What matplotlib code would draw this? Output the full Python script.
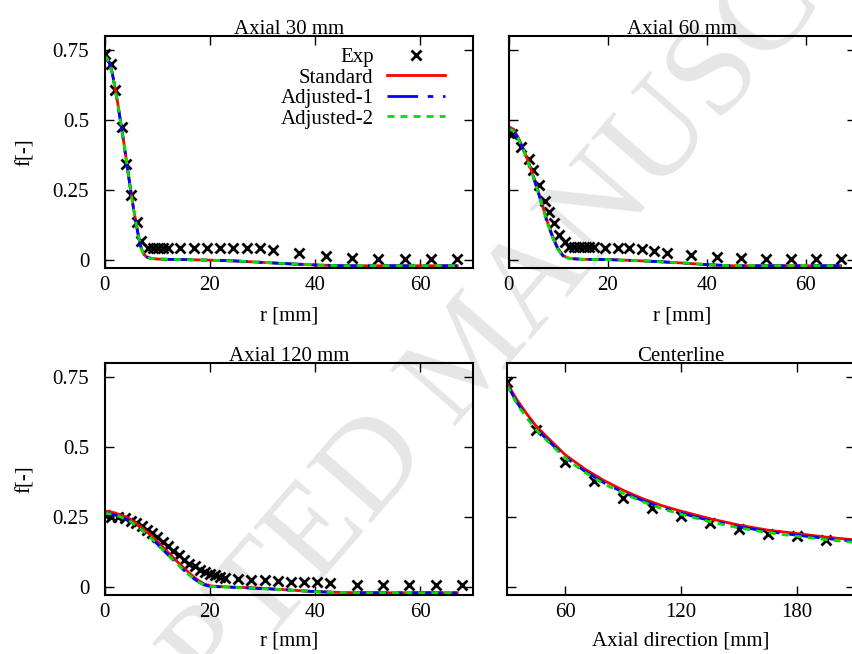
"""Mixture fraction profiles: radial cuts and centerline, Exp vs three models."""

import matplotlib

matplotlib.use("Agg")
import matplotlib.pyplot as plt

# ---------------------------------------------------------------- data
# Axial 30 mm
exp30_r = [0, 1.25, 2, 3.3, 4.1, 5, 6.1, 7, 8.2, 9.2, 10.1, 11.1, 12, 14.4, 17,
           19.4, 21.9, 24.5, 27, 29.5, 32, 37, 42, 47, 52, 57, 62, 67]
exp30_f = [0.735, 0.70, 0.607, 0.475, 0.343, 0.232, 0.133, 0.068, 0.043, 0.043,
           0.043, 0.043, 0.043, 0.043, 0.043, 0.043, 0.043, 0.042, 0.042, 0.041,
           0.036, 0.023, 0.012, 0.005, 0.001, 0.001, 0.001, 0.001]
sim30_r = [0, 0.5, 1, 1.5, 2, 2.5, 3, 3.5, 4, 4.5, 5, 5.5, 6, 6.5, 7, 7.5, 8, 8.5,
           9, 10, 12, 15, 20, 25, 30, 35, 40, 45, 50, 55, 60, 67]
std30_f = [0.73, 0.72, 0.70, 0.665, 0.615, 0.56, 0.50, 0.44, 0.375, 0.31, 0.245,
           0.185, 0.13, 0.08, 0.04, 0.018, 0.01, 0.006, 0.004, 0.002, 0.001, 0.0,
           -0.002, -0.005, -0.01, -0.015, -0.019, -0.022, -0.022, -0.022, -0.022, -0.022]
adj1_30_f = [0.728, 0.718, 0.698, 0.663, 0.613, 0.558, 0.498, 0.438, 0.373, 0.308,
             0.243, 0.183, 0.128, 0.078, 0.038, 0.017, 0.009, 0.006, 0.004, 0.002,
             0.001, 0.0, -0.002, -0.005, -0.01, -0.015, -0.019, -0.022, -0.022,
             -0.022, -0.022, -0.022]
adj2_30_f = [0.728, 0.718, 0.698, 0.663, 0.613, 0.558, 0.498, 0.438, 0.373, 0.308,
             0.243, 0.183, 0.128, 0.078, 0.038, 0.017, 0.009, 0.006, 0.004, 0.002,
             0.001, 0.0, -0.002, -0.005, -0.01, -0.015, -0.019, -0.022, -0.022,
             -0.022, -0.022, -0.022]

# Axial 60 mm
exp60_r = [0, 0.8, 2.6, 4.1, 4.9, 6.1, 7.3, 8.1, 9.1, 10.2, 11.3, 12.3, 13.3,
           14.3, 15.3, 16.3, 17.3, 19.5, 22.1, 24.4, 27, 29.4, 32, 36.9, 42, 47,
           52, 57, 62, 67]
exp60_f = [0.452, 0.45, 0.401, 0.36, 0.321, 0.268, 0.209, 0.169, 0.129, 0.087,
           0.063, 0.046, 0.046, 0.046, 0.046, 0.046, 0.046, 0.043, 0.042, 0.04,
           0.037, 0.03, 0.025, 0.016, 0.008, 0.007, 0.002, 0.001, 0.001, 0.002]
sim60_r = [0, 1, 2, 3, 4, 5, 6, 7, 8, 9, 10, 11, 12, 13, 15, 20, 25, 30, 35, 40,
           45, 50, 55, 60, 67]
std60_f = [0.476, 0.465, 0.435, 0.395, 0.35, 0.30, 0.245, 0.185, 0.127, 0.08,
           0.04, 0.015, 0.006, 0.003, 0.001, 0.0, -0.003, -0.007, -0.012, -0.018,
           -0.022, -0.022, -0.022, -0.022, -0.022]
adj1_60_f = [0.467, 0.46, 0.432, 0.392, 0.346, 0.295, 0.24, 0.18, 0.122, 0.075,
             0.036, 0.013, 0.005, 0.003, 0.001, 0.0, -0.003, -0.007, -0.012,
             -0.018, -0.022, -0.022, -0.022, -0.022, -0.022]
adj2_60_f = [0.467, 0.46, 0.432, 0.392, 0.346, 0.295, 0.24, 0.18, 0.122, 0.075,
             0.036, 0.013, 0.005, 0.003, 0.001, 0.0, -0.003, -0.007, -0.012,
             -0.018, -0.022, -0.022, -0.022, -0.022, -0.022]

# Axial 120 mm
exp120_r = [0.1, 1.3, 2.6, 3.9, 5.0, 6.0, 7.1, 8.0, 9.1, 10.0, 11.2, 12.1, 13.1,
            14.2, 15.1, 16.1, 17.2, 18.1, 19.1, 20.0, 20.9, 21.9, 22.8, 25.4,
            27.9, 30.4, 32.9, 35.4, 37.9, 40.4, 42.9, 47.9, 52.9, 57.9, 62.9, 67.9]
exp120_f = [0.255, 0.25, 0.248, 0.245, 0.236, 0.227, 0.217, 0.203, 0.191, 0.177,
            0.161, 0.146, 0.129, 0.114, 0.096, 0.082, 0.073, 0.061, 0.051, 0.046,
            0.04, 0.035, 0.031, 0.026, 0.024, 0.024, 0.02, 0.017, 0.015, 0.015,
            0.013, 0.006, 0.004, 0.004, 0.004, 0.006]
sim120_r = [0, 1, 2, 3, 4, 5, 6, 7, 8, 9, 10, 11, 12, 13, 14, 15, 16, 17, 18, 19,
            20, 22, 25, 30, 35, 40, 45, 50, 55, 60, 67]
std120_f = [0.27, 0.268, 0.263, 0.257, 0.25, 0.24, 0.227, 0.212, 0.197, 0.18,
            0.162, 0.143, 0.124, 0.105, 0.086, 0.068, 0.05, 0.034, 0.02, 0.009,
            0.003, 0.0, -0.002, -0.006, -0.012, -0.018, -0.021, -0.022, -0.022,
            -0.022, -0.022]
adj1_120_f = [0.262, 0.26, 0.256, 0.25, 0.242, 0.232, 0.219, 0.204, 0.188, 0.171,
              0.153, 0.134, 0.115, 0.096, 0.078, 0.06, 0.043, 0.028, 0.015, 0.006,
              0.001, -0.001, -0.003, -0.007, -0.012, -0.018, -0.021, -0.022,
              -0.022, -0.022, -0.022]
adj2_120_f = [0.262, 0.26, 0.256, 0.25, 0.242, 0.232, 0.219, 0.204, 0.188, 0.171,
              0.153, 0.134, 0.115, 0.096, 0.078, 0.06, 0.043, 0.028, 0.015, 0.006,
              0.001, -0.001, -0.003, -0.007, -0.012, -0.018, -0.021, -0.022,
              -0.022, -0.022, -0.022]

# Centerline
expcl_z = [30, 45, 60, 75, 90, 105, 120, 135, 150, 165, 180, 195]
expcl_f = [0.731, 0.559, 0.445, 0.377, 0.318, 0.282, 0.252, 0.229, 0.207, 0.190,
           0.181, 0.166]
simcl_z = [30, 35, 40, 45, 50, 60, 70, 80, 90, 100, 110, 120, 135, 150, 165, 180,
           195, 210]
stdcl_f = [0.728, 0.67, 0.62, 0.575, 0.54, 0.472, 0.422, 0.38, 0.345, 0.315,
           0.29, 0.27, 0.243, 0.22, 0.202, 0.19, 0.177, 0.167]
adj1cl_f = [0.722, 0.66, 0.61, 0.566, 0.531, 0.464, 0.414, 0.372, 0.338, 0.308,
            0.283, 0.263, 0.236, 0.214, 0.197, 0.184, 0.172, 0.162]
adj2cl_f = [0.72, 0.655, 0.605, 0.562, 0.527, 0.46, 0.41, 0.368, 0.334, 0.304,
            0.279, 0.259, 0.232, 0.21, 0.193, 0.18, 0.168, 0.158]

titles = ["Axial 30 mm", "Axial 60 mm", "Axial 120 mm", "Centerline"]
f_ticks = [0, 0.25, 0.5, 0.75]
f_ticklabels = ["0", "0.25", "0.5", "0.75"]
r_ticks = [0, 20, 40, 60]
z_ticks = [60, 120, 180]

# ---------------------------------------------------------------- style
plt.rcParams["font.family"] = ["Liberation Serif", "DejaVu Serif"]
plt.rcParams["font.size"] = 15
FS = 15

W, H = 852, 654


def px_axes(fig, left, top, right, bottom):
    """Add axes given pixel box (top-left origin)."""
    return fig.add_axes([left / W, (H - bottom) / H, (right - left) / W,
                         (bottom - top) / H])


def style_axes(ax, title, ylabels=True):
    ax.set_facecolor("none")
    for sp in ax.spines.values():
        sp.set_linewidth(1.5)
    ax.tick_params(direction="in", top=True, right=True, length=6.5, width=1.0,
                   labelsize=FS)
    ax.tick_params(axis="y", pad=11)
    ax.tick_params(axis="x", pad=6)
    ax.set_title(title, fontsize=FS, pad=1.5)
    ax.set_ylim(-0.03, 0.8)
    ax.set_yticks(f_ticks)
    if ylabels:
        ax.set_yticklabels(f_ticklabels)
        ax.set_ylabel("f[-]", fontsize=FS)
        ax.yaxis.set_label_coords(-0.19, 0.5)
    else:
        ax.set_yticklabels([])


def draw(ax, ex, ey, sx, s_std, s_adj1, s_adj2):
    ax.plot(ex, ey, ls="none", marker="x", ms=7.5, mew=2, color="black", label="Exp")
    ax.plot(sx, s_std, color="red", lw=2, label="Standard")
    ax.plot(sx, s_adj1, color="blue", lw=2, dashes=(11, 3.5, 2, 3.5),
            label="Adjusted-1")
    ax.plot(sx, s_adj2, color="#00e000", lw=2, dashes=(2.5, 2.2),
            label="Adjusted-2")


fig = plt.figure(figsize=(W / 100, H / 100), dpi=100)

# watermark behind everything
fig.text(0.556, 0.454, "ACCEPTED MANUSCRIPT", fontsize=95, color="#e6e6e6",
         rotation=49, ha="center", va="center", rotation_mode="anchor", zorder=-10)

ax1 = px_axes(fig, 104.5, 35.7, 473, 268)
ax2 = px_axes(fig, 508.5, 35.7, 855.5, 268)
ax3 = px_axes(fig, 104.5, 363, 473, 595)
ax4 = px_axes(fig, 507, 363, 855, 595)

draw(ax1, exp30_r, exp30_f, sim30_r, std30_f, adj1_30_f, adj2_30_f)
draw(ax2, exp60_r, exp60_f, sim60_r, std60_f, adj1_60_f, adj2_60_f)
draw(ax3, exp120_r, exp120_f, sim120_r, std120_f, adj1_120_f, adj2_120_f)
draw(ax4, expcl_z, expcl_f, simcl_z, stdcl_f, adj1cl_f, adj2cl_f)

style_axes(ax1, titles[0])
style_axes(ax2, titles[1], ylabels=False)
style_axes(ax3, titles[2])
style_axes(ax4, titles[3], ylabels=False)

for ax in (ax1, ax2, ax3):
    ax.set_xlim(0, 70)
    ax.set_xticks(r_ticks)
    ax.set_xlabel("r [mm]", fontsize=FS)
ax4.set_xlim(30, 210)
ax4.set_xticks(z_ticks)
ax4.set_xlabel("Axial direction [mm]", fontsize=FS)

ax1.xaxis.set_label_coords(0.5, -0.166)
ax2.xaxis.set_label_coords(0.5, -0.166)
ax3.xaxis.set_label_coords(0.5, -0.158)
ax4.xaxis.set_label_coords(0.5, -0.158)

ax1.legend(loc="upper right", bbox_to_anchor=(0.924, 0.95), frameon=False,
           markerfirst=False, numpoints=1, handlelength=2.8, handletextpad=0.63,
           labelspacing=0.05, borderpad=0, borderaxespad=0, fontsize=FS)

fig.savefig("out.png", dpi=100)
